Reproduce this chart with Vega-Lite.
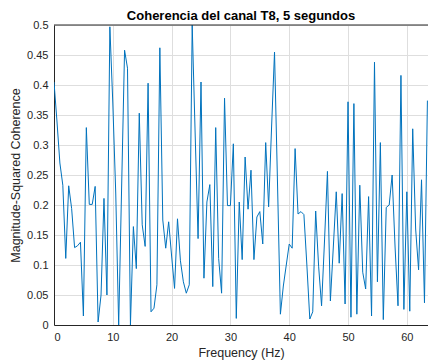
{
  "$schema": "https://vega.github.io/schema/vega-lite/v6.json",
  "width": 374,
  "height": 300,
  "autosize": {"type": "none"},
  "padding": {"left": 54, "top": 25, "right": 0, "bottom": 39},
  "background": "white",
  "title": {"text": "Coherencia del canal T8, 5 segundos", "font": "Liberation Sans", "fontSize": 13, "fontWeight": "bold", "color": "#000000", "anchor": "middle", "offset": 6, "dy": 10},
  "config": {
    "view": {"stroke": null},
    "axis": {
      "domainColor": "#262626", "domainWidth": 1,
      "grid": true, "gridColor": "#dedede", "gridWidth": 1,
      "ticks": false,
      "labelFont": "Liberation Sans", "labelFontSize": 11, "labelColor": "#262626", "labelPadding": 6, "labelOverlap": false,
      "titleFont": "Liberation Sans", "titleFontSize": 12.5, "titleFontWeight": "normal", "titleColor": "#262626"
    }
  },
  "data": {"values": [
    {"f":0,"c":0.405},{"f":0.5,"c":0.34},{"f":1,"c":0.27},{"f":1.5,"c":0.233},{"f":2,"c":0.111},{"f":2.5,"c":0.232},{"f":3,"c":0.194},{"f":3.5,"c":0.129},{"f":4,"c":0.132},{"f":4.5,"c":0.138},
    {"f":5,"c":0.015},{"f":5.5,"c":0.329},{"f":6,"c":0.201},{"f":6.5,"c":0.201},{"f":7,"c":0.231},{"f":7.5,"c":0.005},{"f":8,"c":0.05},{"f":8.5,"c":0.211},{"f":9,"c":0.05},{"f":9.5,"c":0.497},
    {"f":10,"c":0.37},{"f":10.5,"c":0.22},{"f":11,"c":0.0},{"f":11.5,"c":0.23},{"f":12,"c":0.458},{"f":12.5,"c":0.428},{"f":13,"c":0.0},{"f":13.5,"c":0.164},{"f":14,"c":0.094},{"f":14.5,"c":0.353},
    {"f":15,"c":0.167},{"f":15.5,"c":0.131},{"f":16,"c":0.403},{"f":16.5,"c":0.022},{"f":17,"c":0.028},{"f":17.5,"c":0.067},{"f":18,"c":0.462},{"f":18.5,"c":0.175},{"f":19,"c":0.128},{"f":19.5,"c":0.172},
    {"f":20,"c":0.115},{"f":20.5,"c":0.061},{"f":21,"c":0.177},{"f":21.5,"c":0.107},{"f":22,"c":0.072},{"f":22.5,"c":0.053},{"f":23,"c":0.067},{"f":23.5,"c":0.5},{"f":24,"c":0.32},{"f":24.5,"c":0.144},
    {"f":25,"c":0.405},{"f":25.5,"c":0.078},{"f":26,"c":0.205},{"f":26.5,"c":0.234},{"f":27,"c":0.064},{"f":27.5,"c":0.329},{"f":28,"c":0.111},{"f":28.5,"c":0.053},{"f":29,"c":0.378},{"f":29.5,"c":0.199},
    {"f":30,"c":0.199},{"f":30.5,"c":0.302},{"f":31,"c":0.011},{"f":31.5,"c":0.205},{"f":32,"c":0.109},{"f":32.5,"c":0.28},{"f":33,"c":0.193},{"f":33.5,"c":0.258},{"f":34,"c":0.109},{"f":34.5,"c":0.18},
    {"f":35,"c":0.189},{"f":35.5,"c":0.135},{"f":36,"c":0.304},{"f":36.5,"c":0.197},{"f":37,"c":0.33},{"f":37.5,"c":0.455},{"f":38,"c":0.24},{"f":38.5,"c":0.018},{"f":39,"c":0.065},{"f":39.5,"c":0.1},
    {"f":40,"c":0.135},{"f":40.5,"c":0.128},{"f":41,"c":0.294},{"f":41.5,"c":0.185},{"f":42,"c":0.189},{"f":42.5,"c":0.184},{"f":43,"c":0.1},{"f":43.5,"c":0.01},{"f":44,"c":0.022},{"f":44.5,"c":0.19},
    {"f":45,"c":0.098},{"f":45.5,"c":0.032},{"f":46,"c":0.14},{"f":46.5,"c":0.256},{"f":47,"c":0.04},{"f":47.5,"c":0.13},{"f":48,"c":0.222},{"f":48.5,"c":0.103},{"f":49,"c":0.219},{"f":49.5,"c":0.035},
    {"f":50,"c":0.372},{"f":50.5,"c":0.013},{"f":51,"c":0.369},{"f":51.5,"c":0.018},{"f":52,"c":0.233},{"f":52.5,"c":0.088},{"f":53,"c":0.06},{"f":53.5,"c":0.214},{"f":54,"c":0.015},{"f":54.5,"c":0.438},
    {"f":55,"c":0.072},{"f":55.5,"c":0.304},{"f":56,"c":0.009},{"f":56.5,"c":0.196},{"f":57,"c":0.2},{"f":57.5,"c":0.25},{"f":58,"c":0.13},{"f":58.5,"c":0.032},{"f":59,"c":0.416},{"f":59.5,"c":0.026},
    {"f":60,"c":0.222},{"f":60.5,"c":0.023},{"f":61,"c":0.327},{"f":61.5,"c":0.16},{"f":62,"c":0.092},{"f":62.5,"c":0.242},{"f":63,"c":0.037},{"f":63.5,"c":0.374}
  ]},
  "layer": [
    {
      "mark": {"type": "line", "color": "#0072BD", "strokeWidth": 1, "clip": true},
      "encoding": {
        "x": {"field": "f", "type": "quantitative",
              "scale": {"domain": [0, 63.6], "nice": false, "zero": false},
              "axis": {"title": "Frequency (Hz)", "values": [0, 10, 20, 30, 40, 50, 60], "titlePadding": 4}},
        "y": {"field": "c", "type": "quantitative",
              "scale": {"domain": [0, 0.5], "nice": false},
              "axis": {"title": "Magnitude-Squared Coherence", "values": [0, 0.05, 0.1, 0.15, 0.2, 0.25, 0.3, 0.35, 0.4, 0.45, 0.5], "format": "~g", "titlePadding": 4, "labelOverlap": false}}
      }
    },
    {
      "data": {"values": [{"top": 0.5}]},
      "mark": {"type": "rule", "color": "#262626", "strokeWidth": 1},
      "encoding": {"y": {"field": "top", "type": "quantitative",
              "scale": {"domain": [0, 0.5], "nice": false},
              "axis": {"title": "Magnitude-Squared Coherence", "values": [0, 0.05, 0.1, 0.15, 0.2, 0.25, 0.3, 0.35, 0.4, 0.45, 0.5], "format": "~g", "titlePadding": 4, "labelOverlap": false}}}
    }
  ]
}
